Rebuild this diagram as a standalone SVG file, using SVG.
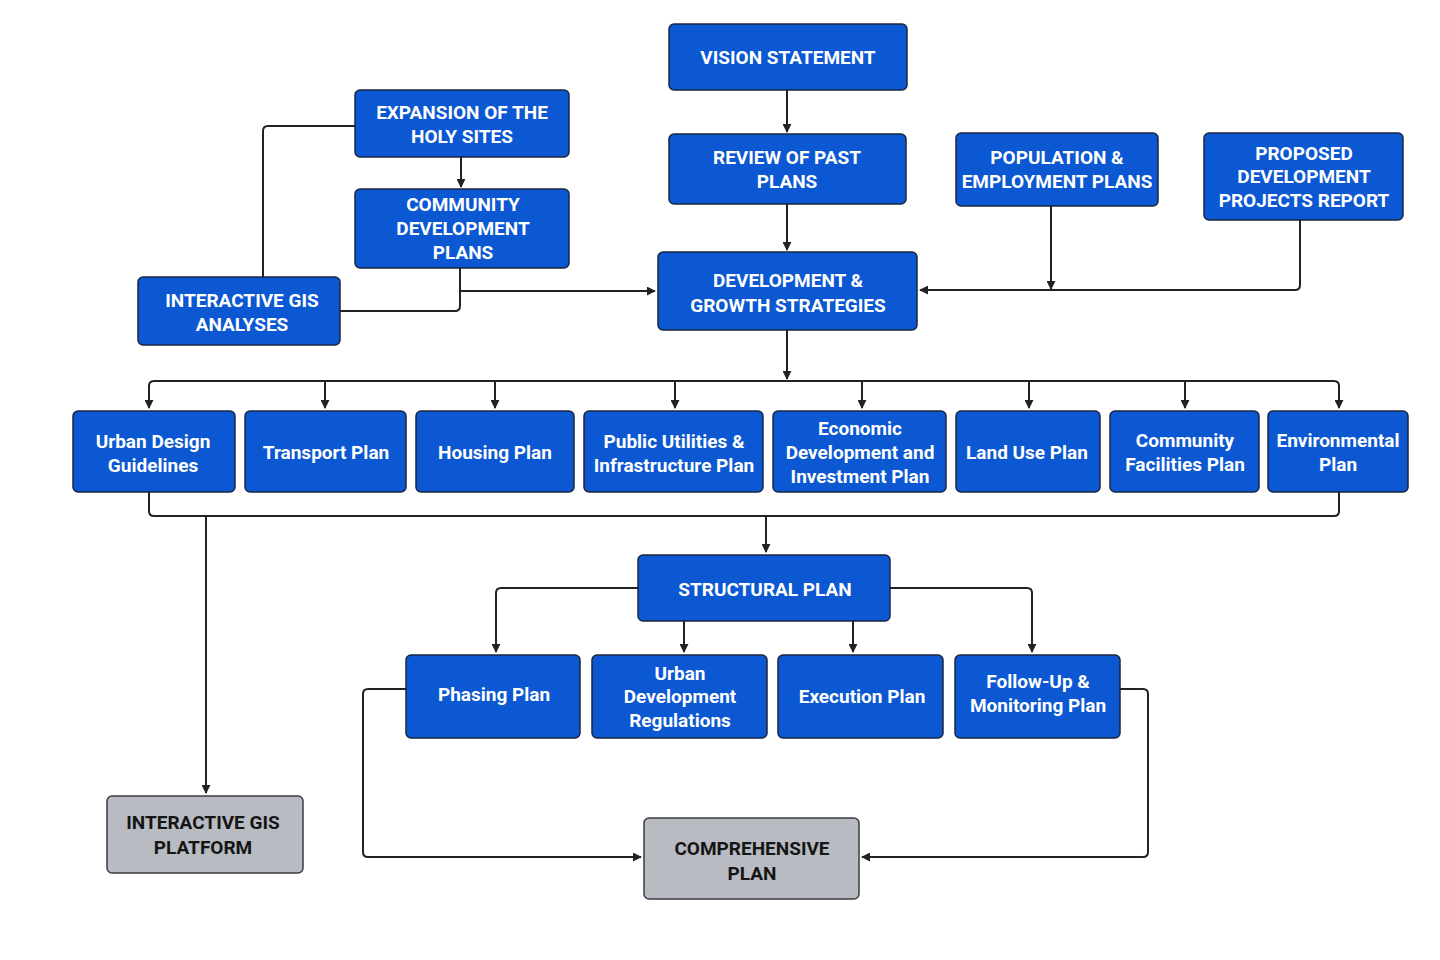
<svg xmlns="http://www.w3.org/2000/svg" width="1440" height="960" viewBox="0 0 1440 960">
<defs>
<marker id="a" viewBox="0 0 10 10" refX="9" refY="5" markerWidth="9" markerHeight="9" markerUnits="userSpaceOnUse" orient="auto"><path d="M0,0L10,5L0,10z" fill="#222"/></marker>
<style>
.n rect{fill:#0b58d2;stroke:#1b2640;stroke-width:1.5}
.g rect{fill:#b8bbc1;stroke:#3a3d44;stroke-width:1.5}
text{font-family:Roboto,"Liberation Sans",sans-serif;font-weight:700;font-size:19px;text-anchor:middle}
.n text{fill:#fff}
.g text{fill:#151515}
#c path{fill:none;stroke:#222;stroke-width:2}
.ar{marker-end:url(#a)}
</style>
</defs>
<rect width="1440" height="960" fill="#fff"/>
<g id="c">
<path class="ar" d="M787,90V132"/>
<path class="ar" d="M461,157V187"/>
<path d="M355,126H268Q263,126 263,131V277"/>
<path d="M460,268V306Q460,311 455,311H340"/>
<path class="ar" d="M460,291H655"/>
<path class="ar" d="M787,204V250"/>
<path class="ar" d="M1051,206V289"/>
<path class="ar" d="M1300,220V285Q1300,290 1295,290H920"/>
<path class="ar" d="M787,330V379"/>
<path d="M149,392V386Q149,381 154,381H1334Q1339,381 1339,386V392"/>
<path class="ar" d="M149,385V408"/><path class="ar" d="M325,381V408"/><path class="ar" d="M495,381V408"/><path class="ar" d="M675,381V408"/><path class="ar" d="M862,381V408"/><path class="ar" d="M1029,381V408"/><path class="ar" d="M1185,381V408"/><path class="ar" d="M1339,385V408"/>
<path d="M149,492V511Q149,516 154,516H1334Q1339,516 1339,511V492"/>
<path class="ar" d="M766,516V552"/>
<path class="ar" d="M206,516V793"/>
<path class="ar" d="M638,588H501Q496,588 496,593V652"/>
<path class="ar" d="M890,588H1027Q1032,588 1032,593V652"/>
<path class="ar" d="M684,621V652"/>
<path class="ar" d="M853,621V652"/>
<path class="ar" d="M406,689H368Q363,689 363,694V852Q363,857 368,857H641"/>
<path class="ar" d="M1120,689H1143Q1148,689 1148,694V852Q1148,857 1143,857H862"/>
</g>
<g id="vision" class="n"><rect x="669" y="24" width="238" height="66" rx="5"/><text x="788" y="64">VISION STATEMENT</text></g>
<g id="expansion" class="n"><rect x="355" y="90" width="214" height="67" rx="5"/><text x="462" y="119">EXPANSION OF THE</text><text x="462" y="143">HOLY SITES</text></g>
<g id="community" class="n"><rect x="355" y="189" width="214" height="79" rx="5"/><text x="463" y="211">COMMUNITY</text><text x="463" y="235">DEVELOPMENT</text><text x="463" y="259">PLANS</text></g>
<g id="gis-analyses" class="n"><rect x="138" y="277" width="202" height="68" rx="5"/><text x="242" y="307">INTERACTIVE GIS</text><text x="242" y="331">ANALYSES</text></g>
<g id="review" class="n"><rect x="669" y="134" width="237" height="70" rx="5"/><text x="787" y="164">REVIEW OF PAST</text><text x="787" y="188">PLANS</text></g>
<g id="population" class="n"><rect x="956" y="133" width="202" height="73" rx="5"/><text x="1057" y="164">POPULATION &amp;</text><text x="1057" y="188">EMPLOYMENT PLANS</text></g>
<g id="proposed" class="n"><rect x="1204" y="133" width="199" height="87" rx="5"/><text x="1304" y="160">PROPOSED</text><text x="1304" y="183">DEVELOPMENT</text><text x="1304" y="207">PROJECTS REPORT</text></g>
<g id="growth" class="n"><rect x="658" y="252" width="259" height="78" rx="5"/><text x="788" y="287">DEVELOPMENT &amp;</text><text x="788" y="312">GROWTH STRATEGIES</text></g>
<g id="urban-design" class="n"><rect x="73" y="411" width="162" height="81" rx="5"/><text x="153" y="448">Urban Design</text><text x="153" y="472">Guidelines</text></g>
<g id="transport" class="n"><rect x="245" y="411" width="161" height="81" rx="5"/><text x="326" y="459">Transport Plan</text></g>
<g id="housing" class="n"><rect x="416" y="411" width="158" height="81" rx="5"/><text x="495" y="459">Housing Plan</text></g>
<g id="utilities" class="n"><rect x="584" y="411" width="179" height="81" rx="5"/><text x="674" y="448">Public Utilities &amp;</text><text x="674" y="472">Infrastructure Plan</text></g>
<g id="economic" class="n"><rect x="773" y="411" width="173" height="81" rx="5"/><text x="860" y="435">Economic</text><text x="860" y="459">Development and</text><text x="860" y="483">Investment Plan</text></g>
<g id="landuse" class="n"><rect x="956" y="411" width="144" height="81" rx="5"/><text x="1027" y="459">Land Use Plan</text></g>
<g id="facilities" class="n"><rect x="1110" y="411" width="149" height="81" rx="5"/><text x="1185" y="447">Community</text><text x="1185" y="471">Facilities Plan</text></g>
<g id="environmental" class="n"><rect x="1268" y="411" width="140" height="81" rx="5"/><text x="1338" y="447">Environmental</text><text x="1338" y="471">Plan</text></g>
<g id="structural" class="n"><rect x="638" y="555" width="252" height="66" rx="5"/><text x="765" y="596">STRUCTURAL PLAN</text></g>
<g id="phasing" class="n"><rect x="406" y="655" width="174" height="83" rx="5"/><text x="494" y="701">Phasing Plan</text></g>
<g id="regulations" class="n"><rect x="592" y="655" width="175" height="83" rx="5"/><text x="680" y="680">Urban</text><text x="680" y="703">Development</text><text x="680" y="727">Regulations</text></g>
<g id="execution" class="n"><rect x="778" y="655" width="165" height="83" rx="5"/><text x="862" y="703">Execution Plan</text></g>
<g id="followup" class="n"><rect x="955" y="655" width="165" height="83" rx="5"/><text x="1038" y="688">Follow-Up &amp;</text><text x="1038" y="712">Monitoring Plan</text></g>
<g id="gis-platform" class="g"><rect x="107" y="796" width="196" height="77" rx="5"/><text x="203" y="829">INTERACTIVE GIS</text><text x="203" y="854">PLATFORM</text></g>
<g id="comprehensive" class="g"><rect x="644" y="818" width="215" height="81" rx="5"/><text x="752" y="855">COMPREHENSIVE</text><text x="752" y="880">PLAN</text></g>
</svg>
